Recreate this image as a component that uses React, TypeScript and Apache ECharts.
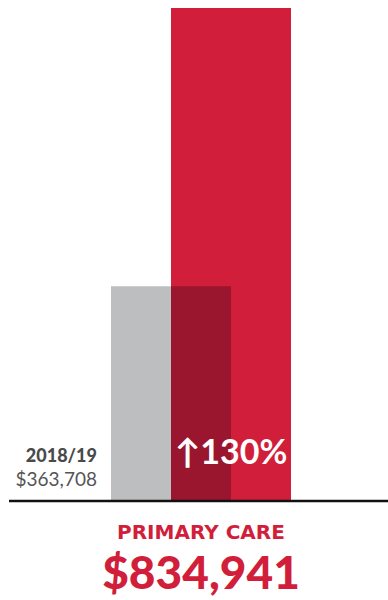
import React, { useEffect, useRef } from "react";
import * as echarts from "echarts";

const categories = ["PRIMARY CARE"];
const periodLabels = ["2018/19"];
const previousValues = [363708];
const currentValues = [834941];

const RED = "#d11f3b";
const DARK = "#99162e";
const GRAY = "#bcbec0";

const fmt = (v: number) => "$" + v.toLocaleString("en-US");

export default function App() {
  const ref = useRef<HTMLDivElement>(null);
  useEffect(() => {
    document.body.style.margin = "0";
    const chart = echarts.init(ref.current!, null, { renderer: "svg" });
    const data = categories.map((c, i) => [i, previousValues[i], currentValues[i]]);
    chart.setOption({
      animation: false,
      grid: { left: 14, right: 0, top: 8, bottom: 99 },
      xAxis: {
        type: "category",
        data: categories,
        axisLine: { show: false },
        axisTick: { show: false },
        axisLabel: { show: false },
      },
      yAxis: {
        type: "value",
        min: 0,
        max: Math.max(...currentValues),
        show: false,
        splitLine: { show: false },
      },
      graphic: [
        {
          type: "line",
          z: 10,
          shape: { x1: 9, y1: 501, x2: 388, y2: 501 },
          style: { stroke: "#111", lineWidth: 2.5 },
        },
      ],
      series: [
        {
          type: "custom",
          data,
          renderItem: (params: any, api: any) => {
            const idx = api.value(0);
            const prev = api.value(1);
            const cur = api.value(2);
            const base = api.coord([idx, 0]);
            const pTop = api.coord([idx, prev]);
            const cTop = api.coord([idx, cur]);
            const cx = base[0];
            const w = 120;
            const off = 30;
            const gx = cx - off - w / 2;
            const rx = cx + off - w / 2;
            const pct = Math.round((cur / prev - 1) * 100);
            return {
              type: "group",
              children: [
                { type: "rect", shape: { x: gx, y: pTop[1], width: w, height: base[1] - pTop[1] }, style: { fill: GRAY } },
                { type: "rect", shape: { x: rx, y: cTop[1], width: w, height: base[1] - cTop[1] }, style: { fill: RED } },
                { type: "rect", shape: { x: rx, y: pTop[1], width: gx + w - rx, height: base[1] - pTop[1] }, style: { fill: DARK } },
                {
                  type: "text",
                  style: {
                    x: rx + w / 2, y: base[1] - 51,
                    text: "↑" + pct + "%",
                    fill: "#fff",
                    font: "bold 34px Lato",
                    textAlign: "center",
                    textVerticalAlign: "middle",
                  },
                },
                {
                  type: "text",
                  style: {
                    x: gx - 14, y: base[1] - 46,
                    text: periodLabels[idx],
                    fill: "#4a4a4a",
                    font: "900 18px Lato",
                    textAlign: "right",
                    textVerticalAlign: "middle",
                  },
                },
                {
                  type: "text",
                  style: {
                    x: gx - 14, y: base[1] - 23,
                    text: fmt(prev),
                    fill: "#555",
                    font: "19px Lato",
                    textAlign: "right",
                    textVerticalAlign: "middle",
                  },
                },
                {
                  type: "text",
                  style: {
                    x: cx, y: base[1] + 31,
                    text: categories[idx],
                    fill: RED,
                    font: "bold 20px 'DejaVu Sans'",
                    textAlign: "center",
                    textVerticalAlign: "middle",
                  },
                },
                {
                  type: "text",
                  style: {
                    x: cx, y: base[1] + 70,
                    text: fmt(cur),
                    fill: RED,
                    font: "900 46px Lato",
                    textAlign: "center",
                    textVerticalAlign: "middle",
                  },
                },
              ],
            };
          },
        },
      ],
    });
    return () => chart.dispose();
  }, []);
  return <div ref={ref} style={{ width: 388, height: 600 }} />;
}
